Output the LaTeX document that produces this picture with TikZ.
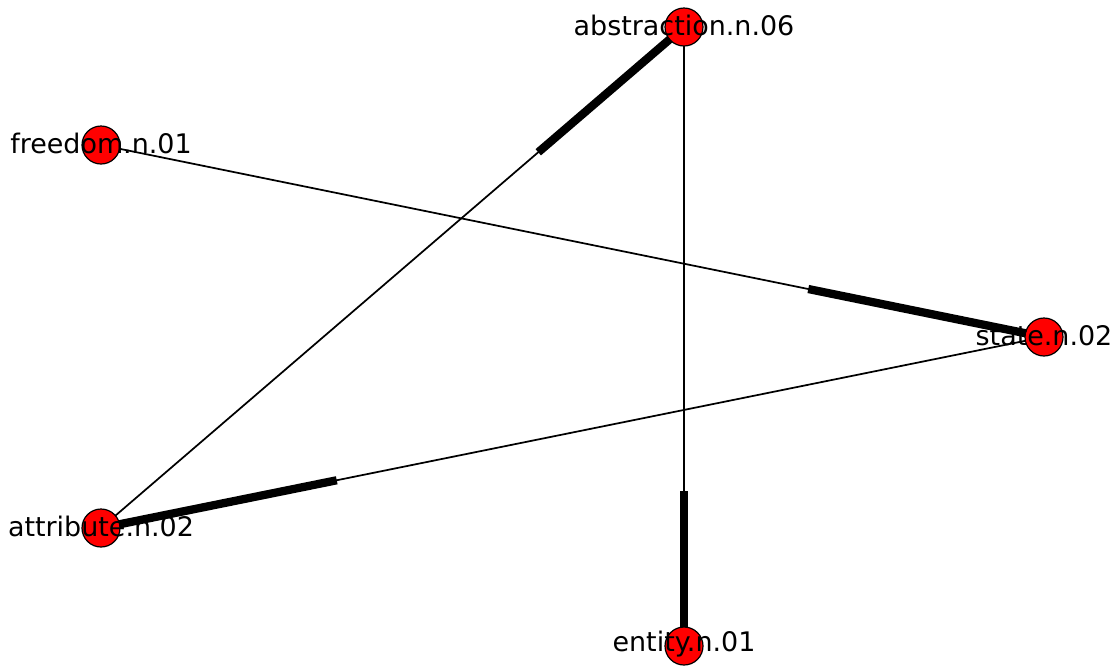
\documentclass[tikz,border=0pt]{standalone}
\usepackage{fontspec}
\setmainfont{DejaVu Sans}
\usetikzlibrary{calc,backgrounds}
\definecolor{nodered}{HTML}{FF0000}

\begin{document}
\begin{tikzpicture}[
  x=0.75pt, y=-0.75pt,
  synset/.style={circle, draw=black, line width=0.9pt, fill=nodered, minimum size=28.5pt, inner sep=0pt},
  lbl/.style={font=\fontsize{20.2}{24}\selectfont, yshift=1.2pt},
  edge/.style={draw=black, line width=1.3pt},
  head/.style={draw=black, line width=6.2pt}
]
  \useasboundingbox (0,0) rectangle (1119,669);
  % nodes
  \node[synset, label={[lbl]center:abstraction.n.06}] (abs) at (684,27) {};
  \node[synset, label={[lbl]center:freedom.n.01}] (free) at (101,145) {};
  \node[synset, label={[lbl]center:state.n.02}] (state) at (1044,337) {};
  \node[synset, label={[lbl]center:attribute.n.02}] (attr) at (101,528) {};
  \node[synset, label={[lbl]center:entity.n.01}] (ent) at (684,646) {};
  % edges, thick part at the head
  \begin{scope}[on background layer]
    \draw[edge] (attr.center) -- (abs.center);
    \draw[head] ($(attr.center)!0.75!(abs.center)$) -- (abs.center);
    \draw[edge] (free.center) -- (state.center);
    \draw[head] ($(free.center)!0.75!(state.center)$) -- (state.center);
    \draw[edge] (abs.center) -- (ent.center);
    \draw[head] ($(abs.center)!0.75!(ent.center)$) -- (ent.center);
    \draw[edge] (state.center) -- (attr.center);
    \draw[head] ($(state.center)!0.75!(attr.center)$) -- (attr.center);
  \end{scope}
\end{tikzpicture}
\end{document}
